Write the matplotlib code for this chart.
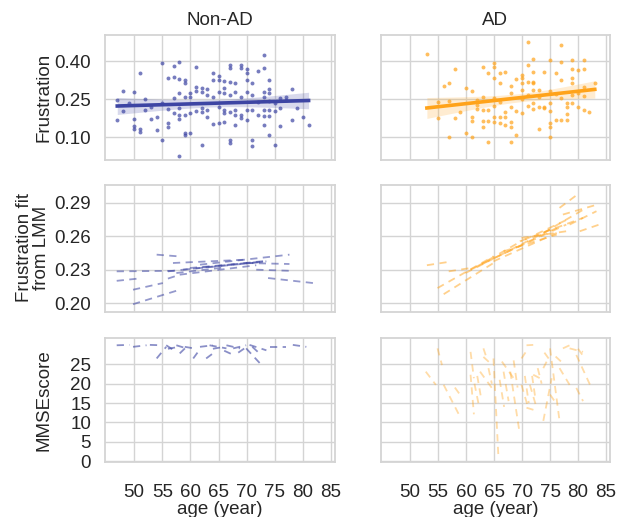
import numpy as np
import matplotlib
matplotlib.use("Agg")
import matplotlib.pyplot as plt

# ---------------- data ----------------
groups = ["Non-AD", "AD"]

# Row 1 scatter: (age, frustration)
nonad_age = [47, 47, 48, 48, 49, 50, 50, 50, 50, 51, 51, 51, 52, 52, 53, 53, 54, 54,
             55, 55, 55, 56, 56, 56, 56, 57, 57, 57, 57,
             58, 58, 58, 58, 58, 58, 58, 59, 59, 59, 59, 59, 59, 60, 60, 60, 60,
             61, 61, 61, 61, 62, 62, 62, 62, 62, 63, 63, 63, 63, 64, 64, 64, 64,
             65, 65, 65, 65, 65, 66, 66, 66, 66, 66, 66, 67, 67, 67, 67, 67, 67, 67,
             68, 68, 68, 68, 68, 69, 69, 69, 69, 69, 70, 70, 70, 70, 70, 70,
             71, 71, 71, 71, 71, 72, 72, 72, 73, 73, 73, 73, 73, 73, 73,
             74, 74, 74, 74, 74, 74, 74, 75, 75, 75, 76, 76, 76, 77, 77, 78, 78, 79, 80, 81]
nonad_frus = [0.247, 0.168, 0.283, 0.204, 0.236, 0.278, 0.171, 0.145, 0.133, 0.352, 0.133, 0.122,
              0.249, 0.207, 0.221, 0.171, 0.181, 0.129,
              0.391, 0.090, 0.234, 0.332, 0.155, 0.139, 0.210, 0.380, 0.338, 0.253, 0.194,
              0.395, 0.328, 0.273, 0.214, 0.188, 0.171, 0.024, 0.325, 0.312, 0.260, 0.188, 0.116, 0.109,
              0.273, 0.260, 0.194, 0.116,
              0.375, 0.297, 0.283, 0.204, 0.293, 0.279, 0.214, 0.201, 0.070, 0.289, 0.266, 0.181, 0.207,
              0.352, 0.325, 0.260, 0.152,
              0.341, 0.325, 0.279, 0.221, 0.155, 0.323, 0.293, 0.273, 0.207, 0.194, 0.158,
              0.384, 0.371, 0.319, 0.266, 0.201, 0.090, 0.076,
              0.315, 0.279, 0.207, 0.188, 0.148, 0.384, 0.371, 0.260, 0.188, 0.175,
              0.367, 0.352, 0.325, 0.279, 0.207, 0.168,
              0.312, 0.266, 0.207, 0.090, 0.066, 0.362, 0.240, 0.188,
              0.424, 0.371, 0.279, 0.260, 0.207, 0.184, 0.148,
              0.325, 0.289, 0.273, 0.244, 0.207, 0.184, 0.109, 0.234, 0.205, 0.070,
              0.253, 0.214, 0.145, 0.260, 0.247, 0.289, 0.166, 0.214, 0.179, 0.148]

ad_age = [53, 55, 55, 56, 57, 57, 57, 58, 58, 59, 60, 60, 61, 61, 61, 61, 62, 62, 62,
          63, 63, 63, 63, 63, 64, 64, 64, 64, 65, 65, 65, 65, 65, 65, 65,
          66, 66, 66, 66, 66, 67, 67, 67, 67, 68, 68, 68, 68, 68, 68, 69, 69, 69,
          70, 70, 70, 70, 70, 70, 71, 71, 71, 71, 71, 72, 72, 72, 72, 72, 72, 72,
          73, 73, 73, 73, 74, 74, 74, 75, 75, 75, 75, 75, 75, 75, 76, 76, 76,
          77, 77, 77, 77, 77, 78, 78, 78, 78, 79, 79, 79, 79, 79, 79, 80, 80, 80,
          81, 81, 81, 81, 81, 82, 83]
ad_frus = [0.430, 0.240, 0.175, 0.302, 0.315, 0.244, 0.099, 0.367, 0.175, 0.201, 0.293, 0.118,
           0.283, 0.181, 0.162, 0.099, 0.247, 0.227, 0.210,
           0.375, 0.260, 0.207, 0.162, 0.142, 0.354, 0.207, 0.162, 0.080,
           0.391, 0.375, 0.332, 0.253, 0.223, 0.179, 0.158,
           0.352, 0.315, 0.240, 0.181, 0.155, 0.358, 0.201, 0.179, 0.148,
           0.302, 0.276, 0.221, 0.158, 0.142, 0.080, 0.328, 0.205, 0.109,
           0.345, 0.332, 0.312, 0.286, 0.249, 0.197, 0.476, 0.384, 0.319, 0.266, 0.223,
           0.410, 0.358, 0.319, 0.312, 0.286, 0.236, 0.210,
           0.286, 0.260, 0.218, 0.131, 0.358, 0.221, 0.214,
           0.404, 0.283, 0.236, 0.204, 0.155, 0.139, 0.099, 0.352, 0.270, 0.168,
           0.463, 0.397, 0.325, 0.253, 0.166, 0.236, 0.218, 0.192, 0.168,
           0.404, 0.367, 0.332, 0.315, 0.266, 0.234, 0.365, 0.273, 0.218,
           0.404, 0.367, 0.299, 0.262, 0.207, 0.201, 0.312]

# Row 2: LMM fitted trajectories per subject (age start, age end, fit start, fit end)
nonad_fit_age0 = [54.0, 46.9, 46.9, 56.0, 49.8, 49.8, 56.0, 56.9, 58.1, 61.7, 69.9, 71.7, 73.8, 58.7, 59.9, 57.5, 62.0]
nonad_fit_age1 = [57.8, 57.8, 50.7, 58.1, 55.1, 58.1, 73.5, 69.9, 71.7, 77.6, 77.6, 77.6, 81.8, 72.9, 73.5, 66.0, 72.0]
nonad_fit_v0 = [0.2435, 0.2285, 0.2200, 0.2220, 0.2120, 0.1990, 0.2285, 0.2360, 0.2255, 0.2345, 0.2360, 0.2300, 0.2225, 0.2300, 0.2315, 0.2270, 0.2320]
nonad_fit_v1 = [0.2420, 0.2290, 0.2220, 0.2255, 0.2180, 0.2120, 0.2380, 0.2390, 0.2340, 0.2435, 0.2351, 0.2290, 0.2180, 0.2370, 0.2375, 0.2320, 0.2365]

ad_fit_age0 = [53.0, 56.9, 54.9, 56.0, 59.9, 60.8, 63.1, 69.6, 69.9, 76.7, 77.3, 78.5, 80.3, 64.9, 73.8, 66.7, 62.0, 70.5]
ad_fit_age1 = [56.9, 60.8, 64.9, 64.9, 75.0, 76.2, 77.9, 80.9, 77.9, 80.3, 83.8, 83.3, 83.8, 76.2, 81.5, 76.2, 70.0, 78.5]
ad_fit_v0 = [0.2340, 0.2285, 0.2135, 0.2080, 0.2270, 0.2300, 0.2360, 0.2555, 0.2585, 0.2855, 0.2795, 0.2705, 0.2645, 0.2375, 0.2630, 0.2465, 0.2330, 0.2570]
ad_fit_v1 = [0.2370, 0.2315, 0.2420, 0.2360, 0.2660, 0.2675, 0.2705, 0.2765, 0.2645, 0.2990, 0.2890, 0.2825, 0.2705, 0.2630, 0.2855, 0.2615, 0.2560, 0.2760]

# Row 3: MMSE trajectories per subject
nonad_mmse_age0 = [46.9, 49.8, 52.8, 54.0, 55.7, 57.5, 58.1, 61.7, 62.8, 63.4, 66.4, 67.6, 69.9, 70.5, 74.1, 78.2,
                   56.0, 59.0, 64.0, 66.0, 68.5, 71.0, 60.5]
nonad_mmse_age1 = [49.2, 52.2, 54.9, 55.7, 57.5, 59.3, 59.3, 64.0, 64.0, 66.4, 68.8, 69.9, 72.9, 73.5, 77.0, 80.6,
                   58.0, 61.0, 66.0, 67.5, 70.0, 72.5, 61.5]
nonad_mmse_m0 = [29.9, 29.5, 30.0, 26.5, 29.9, 29.9, 27.8, 29.5, 26.5, 29.9, 29.9, 29.1, 29.1, 30.0, 29.5, 30.0,
                 29.0, 29.5, 29.0, 28.5, 28.0, 29.5, 26.5]
nonad_mmse_m1 = [30.0, 29.9, 29.9, 29.5, 28.2, 29.1, 29.5, 29.9, 27.8, 29.1, 29.1, 29.9, 24.4, 28.6, 29.5, 29.5,
                 29.5, 29.0, 29.5, 27.5, 29.5, 27.5, 28.5]

ad_mmse_age0 = [54.9, 52.8, 56.0, 60.8, 60.8, 63.1, 63.1, 62.5, 64.9, 66.4, 66.7, 67.9, 69.9, 69.9,
                70.8, 72.0, 71.4, 73.8, 73.8, 75.0, 77.3, 76.7, 78.5, 79.7, 79.7, 75.0, 70.8,
                62.0, 64.0, 66.0, 68.5, 70.5, 71.8, 72.8, 74.0, 76.0, 80.0, 58.0, 61.5]
ad_mmse_age1 = [55.7, 54.6, 58.7, 61.4, 61.4, 63.7, 64.3, 64.6, 65.8, 68.5, 67.6, 69.6, 71.1, 71.1,
                72.0, 73.2, 72.6, 74.4, 75.3, 76.7, 78.5, 78.5, 80.9, 82.4, 80.9, 76.2, 72.6,
                62.6, 64.6, 66.8, 69.2, 71.2, 72.4, 73.5, 75.0, 77.5, 81.0, 59.0, 62.2]
ad_mmse_m0 = [29.1, 23.1, 19.7, 28.2, 22.3, 29.1, 26.9, 23.1, 26.5, 25.7, 23.1, 23.1, 26.5, 19.7,
              29.9, 22.3, 19.7, 24.0, 10.4, 29.1, 29.1, 24.0, 29.1, 27.4, 18.9, 17.2, 13.8,
              22.0, 24.0, 21.0, 26.0, 22.0, 22.0, 24.0, 28.0, 27.0, 29.0, 19.0, 20.0]
ad_mmse_m1 = [24.8, 19.7, 12.1, 21.4, 12.1, 26.5, 25.3, 18.9, 0.5, 21.4, 15.5, 7.0, 29.1, 13.8,
              30.0, 21.4, 13.8, 25.7, 21.4, 10.4, 29.9, 19.7, 28.2, 18.9, 15.5, 14.7, 13.0,
              17.0, 20.0, 14.0, 19.0, 15.0, 16.0, 20.0, 26.0, 25.0, 27.0, 17.0, 15.0]

x_ticks = [50, 55, 60, 65, 70, 75, 80, 85]
row_yticks = [[0.10, 0.25, 0.40], [0.20, 0.23, 0.26, 0.29], [0, 5, 10, 15, 20, 25]]
row_ylims = [(0.01, 0.503), (0.192, 0.306), (-0.2, 31.8)]
row_labels = ["Frustration", "Frustration fit\nfrom LMM", "MMSEscore"]
colors = {"Non-AD": "#3d45a3", "AD": "#ffa31a"}

# ---------------- style ----------------
plt.rcParams['font.family'] = ['Liberation Sans', 'DejaVu Sans']
plt.rcParams['font.size'] = 13.5
text_c = "#262626"
grid_c = "#d4d4d4"

fig = plt.figure(figsize=(6.17, 5.17), dpi=100)
col_x = [0.170, 0.6175]
col_w = [0.373, 0.371]
row_b = [0.6905, 0.3965, 0.1064]
row_h = [0.2418, 0.2456, 0.240]

axes = [[None, None] for _ in range(3)]
for r in range(3):
    for c in range(2):
        ax = fig.add_axes([col_x[c], row_b[r], col_w[c], row_h[r]])
        ax.set_xlim(44.8, 85.7)
        ax.set_ylim(*row_ylims[r])
        ax.set_xticks(x_ticks)
        ax.set_yticks(row_yticks[r])
        ax.grid(True, color=grid_c, lw=1.0, zorder=0)
        ax.set_axisbelow(True)
        for s in ax.spines.values():
            s.set_color(grid_c)
            s.set_linewidth(1.3)
        ax.tick_params(length=0, labelsize=13.5, labelcolor=text_c)
        ax.tick_params(axis='y', pad=10)
        ax.tick_params(axis='x', pad=16)
        if r < 2:
            ax.tick_params(labelbottom=False)
        else:
            ax.set_xlabel("age (year)", color=text_c, fontsize=13.5, labelpad=0)
        if c == 1:
            ax.tick_params(labelleft=False)
        if r == 0:
            ax.set_title(groups[c], color=text_c, fontsize=13.5, pad=7)
        if r < 2:
            ax.yaxis.set_major_formatter(matplotlib.ticker.FormatStrFormatter('%.2f'))
        axes[r][c] = ax

# Row 1: scatter + OLS fit with 95% CI
def reg_panel(ax, xs, ys, color):
    xs = np.asarray(xs, float)
    ys = np.asarray(ys, float)
    ax.scatter(xs, ys, s=8, color=color, alpha=0.7, lw=0, zorder=2)
    b, a = np.polyfit(xs, ys, 1)
    gx = np.linspace(xs.min(), xs.max(), 100)
    gy = a + b * gx
    n = len(xs)
    resid = ys - (a + b * xs)
    s = np.sqrt(np.sum(resid ** 2) / (n - 2))
    se = s * np.sqrt(1.0 / n + (gx - xs.mean()) ** 2 / np.sum((xs - xs.mean()) ** 2))
    ax.fill_between(gx, gy - 1.97 * se, gy + 1.97 * se, color=color, alpha=0.2, lw=0, zorder=3)
    ax.plot(gx, gy, color=color, lw=2.6, zorder=4)

reg_panel(axes[0][0], nonad_age, nonad_frus, colors["Non-AD"])
reg_panel(axes[0][1], ad_age, ad_frus, colors["AD"])

def seg_panel(ax, a0, a1, v0, v1, color, alpha, lw=1.3):
    for i in range(len(a0)):
        ax.plot([a0[i], a1[i]], [v0[i], v1[i]], color=color, alpha=alpha, lw=lw,
                ls=(0, (4, 3)), zorder=3)

seg_panel(axes[1][0], nonad_fit_age0, nonad_fit_age1, nonad_fit_v0, nonad_fit_v1, colors["Non-AD"], 0.55)
seg_panel(axes[1][1], ad_fit_age0, ad_fit_age1, ad_fit_v0, ad_fit_v1, colors["AD"], 0.5)
seg_panel(axes[2][0], nonad_mmse_age0, nonad_mmse_age1, nonad_mmse_m0, nonad_mmse_m1, colors["Non-AD"], 0.6)
seg_panel(axes[2][1], ad_mmse_age0, ad_mmse_age1, ad_mmse_m0, ad_mmse_m1, colors["AD"], 0.38)

# Row labels
fig.text(44 / 617, 1 - 97.5 / 517, row_labels[0], rotation=90, ha='center', va='center',
         color=text_c, fontsize=13.5)
fig.text(33 / 617, 1 - 248 / 517, row_labels[1], rotation=90, ha='center', va='center',
         color=text_c, fontsize=13.5, linespacing=1.0, multialignment='center')
fig.text(44 / 617, 1 - 400 / 517, row_labels[2], rotation=90, ha='center', va='center',
         color=text_c, fontsize=13.5)

fig.savefig("out.png", dpi=100)
